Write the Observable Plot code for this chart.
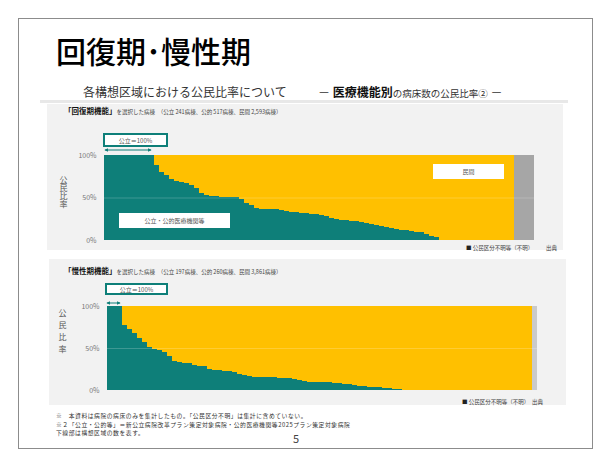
<!DOCTYPE html>
<html><head><meta charset="utf-8">
<script src="https://cdn.jsdelivr.net/npm/d3@7"></script>
<script src="https://cdn.jsdelivr.net/npm/@observablehq/plot@0.6"></script>
<style>
body{margin:0;background:#fff;font-family:"Noto Sans CJK JP","Noto Sans",sans-serif;color:#111;}
#slide{position:relative;width:610px;height:462px;overflow:hidden;background:#fff;}
.abs{position:absolute;white-space:nowrap;}
.panel{position:absolute;background:#f2f2f2;}
.box{position:absolute;background:#fff;box-sizing:border-box;font-size:6px;color:#555;display:flex;align-items:center;justify-content:center;white-space:nowrap;}
.vt{position:absolute;writing-mode:vertical-rl;font-size:8px;color:#555;}
.fn{position:absolute;left:56px;font-size:5.8px;line-height:8px;letter-spacing:0.55px;color:#333;white-space:nowrap;}
</style></head><body>
<div id="slide">
  <div class="abs" style="left:18px;top:18px;width:573px;height:429px;border:1px solid #8c8c8c;"></div>
  <div class="abs" style="left:56px;top:33px;font-size:30px;line-height:34px;font-weight:500;color:#000;">回復期･慢性期</div>
  <div class="abs" style="left:83px;top:85px;font-size:12px;line-height:14px;color:#333;">各構想区域における公民比率について</div>
  <div class="abs" style="left:318px;top:85px;font-size:12px;line-height:14px;color:#333;">－ <b style="color:#111;">医療機能別</b><span style="font-size:9.5px;">の病床数の公民比率②</span> －</div>
  <div class="abs" style="left:40px;top:100px;width:528px;height:3px;background:#e8e8e8;"></div>

  <div class="panel" style="left:47px;top:104px;width:516px;height:146px;"></div>
  <div class="panel" style="left:49px;top:259px;width:517px;height:146px;"></div>

  <div class="abs" style="left:64px;top:106px;font-size:7.5px;line-height:10px;"><b>「回復期機能」</b><span style="font-size:5.5px;color:#444;">を選択した病棟　（公立 241病棟、公的 517病棟、民間 2,593病棟）</span></div>
  <div class="abs" style="left:64px;top:266px;font-size:7.5px;line-height:10px;"><b>「慢性期機能」</b><span style="font-size:5.5px;color:#444;">を選択した病棟　（公立 197病棟、公的 260病棟、民間 3,861病棟）</span></div>

  <div class="vt" style="left:58px;top:176px;">公民比率</div>
  <div class="vt" style="left:57px;top:309px;letter-spacing:4px;">公民比率</div>

  <div id="chart1" class="abs" style="left:48px;top:145px;"></div>
  <div id="chart2" class="abs" style="left:50px;top:296px;"></div>

  <div class="box" style="left:103px;top:133px;width:65px;height:14px;border:2px solid #0e7f79;">公立＝100%</div>
  <div class="box" style="left:105px;top:283px;width:63px;height:12px;border:2px solid #0e7f79;">公立＝100%</div>
  <svg class="abs" style="left:100px;top:146px;" width="60" height="8">
    <defs><marker id="ah" viewBox="0 0 6 6" refX="5" refY="3" markerWidth="4" markerHeight="4" orient="auto-start-reverse"><path d="M0,0L6,3L0,6z" fill="#0e7f79"/></marker></defs>
    <line x1="5" y1="4" x2="51" y2="4" stroke="#0e7f79" stroke-width="1" marker-start="url(#ah)" marker-end="url(#ah)"/>
  </svg>
  <svg class="abs" style="left:103px;top:299px;" width="24" height="8">
    <line x1="4" y1="4" x2="17" y2="4" stroke="#0e7f79" stroke-width="1" marker-start="url(#ah)" marker-end="url(#ah)"/>
  </svg>

  <div class="box" style="left:119px;top:213px;width:111px;height:15px;">公立・公的医療機関等</div>
  <div class="box" style="left:433px;top:164px;width:71px;height:15px;">民間</div>

  <div class="abs" style="left:466px;top:244px;font-size:5.5px;color:#444;"><span style="color:#222;">■</span> 公民区分不明等（不明）</div>
  <div class="abs" style="left:546px;top:244px;font-size:5.5px;color:#444;">出典</div>
  <div class="abs" style="left:462px;top:398px;font-size:5.5px;color:#444;"><span style="color:#222;">■</span> 公民区分不明等（不明）　出典</div>

  <div class="fn" style="top:412px;">※　本資料は病院の病床のみを集計したもの。「公民区分不明」は集計に含めていない。</div>
  <div class="fn" style="top:420.5px;">※２「公立・公的等」＝新公立病院改革プラン策定対象病院・公的医療機関等2025プラン策定対象病院</div>
  <div class="fn" style="top:429px;">下線部は構想区域の数を表す。</div>
  <div class="abs" style="left:293px;top:430px;font-size:11px;color:#444;">5</div>
</div>
<script>
// 回復期: public (公立・公的) share for each 構想区域, sorted descending
const kaifukuPublic = [1,1,1,1,1,1,1,1,1,1,
 0.88,0.80,0.76,0.72,0.70,0.68,0.67,0.65,0.61,0.55,
 0.53,0.52,0.52,0.51,0.51,0.51,0.51,0.48,0.44,0.41,
 0.38,0.37,0.37,0.36,0.36,0.35,0.34,0.33,0.33,0.32,
 0.32,0.31,0.31,0.30,0.28,0.26,0.25,0.24,0.23,0.22,
 0.22,0.21,0.20,0.19,0.18,0.16,0.15,0.14,0.13,0.12,
 0.12,0.11,0.10,0.09,0.07,0.05,0.03,
 0,0,0,0,0,0,0,0,0,0,0,0,0,0,0];
const kaifukuUnknown = 4;
// 慢性期
const manseiPublic = [1,1,1,
 0.77,0.73,0.68,0.62,0.57,0.51,0.49,0.48,0.45,0.41,0.35,
 0.33,0.32,0.32,0.30,0.29,0.28,
 0.25,0.24,0.24,0.23,0.23,0.21,0.19,0.18,
 0.17,0.16,0.16,0.15,0.15,0.15,0.14,0.14,0.14,0.13,
 0.12,0.11,0.10,0.10,0.09,0.09,0.09,0.08,
 0.08,0.07,0.07,0.06,0.05,0.05,0.04,0.04,0.03,0.02,0.02,0.01,0.01,
 0,0,0,0,0,0,0,0,0,0,0,0,0,0,0,0,0,0,0,0,0,0,0,0,0,0];
const manseiUnknown = 1;
const categories = ["公立・公的","民間","不明"];
const tickValues = [0, 0.5, 1];
const tickLabels = ["0%","50%","100%"];

function rows(pub, nUnknown){
  const out = [];
  pub.forEach((p,i)=>{ out.push({i, cat:categories[0], v:p}); out.push({i, cat:categories[1], v:1-p}); });
  for(let k=0;k<nUnknown;k++) out.push({i:pub.length+k, cat:categories[2], v:1});
  return out;
}
function chart(data, opts){
  return Plot.plot({
    width:500, height:opts.height, marginLeft:opts.ml, marginRight:500-opts.ml-430, marginTop:10, marginBottom:8,
    x:{type:"band", padding:0, axis:null},
    y:{domain:[0,1], ticks:tickValues, tickFormat:d=>tickLabels[tickValues.indexOf(d)], tickSize:0, tickPadding:8, label:null},
    color:{domain:categories, range:["#0e7f79","#ffc000",opts.gray]},
    style:{fontSize:"7px", color:"#777", background:"transparent", fontFamily:"'Noto Sans CJK JP',sans-serif"},
    marks:[
      Plot.barY(data, {x:"i", y:"v", fill:"cat", order:categories, shapeRendering:"crispEdges"}),
      Plot.ruleY([0.5], {stroke:"#fff", strokeOpacity:0.2})
    ]
  });
}
document.getElementById("chart1").append(chart(rows(kaifukuPublic,kaifukuUnknown), {height:103, ml:56, gray:"#a6a6a6"}));
document.getElementById("chart2").append(chart(rows(manseiPublic,manseiUnknown), {height:102, ml:57, gray:"#cacaca"}));
</script>
</body></html>
